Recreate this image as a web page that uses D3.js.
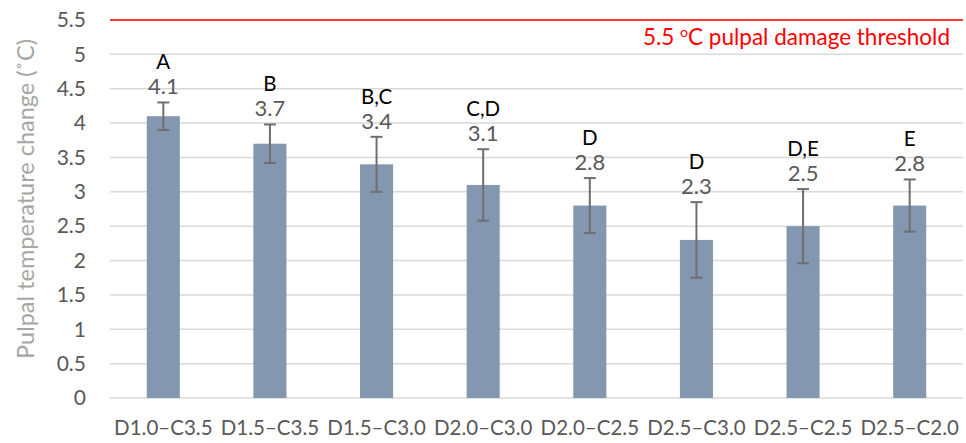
<!DOCTYPE html>
<html>
<head>
<meta charset="utf-8">
<script src="https://cdn.jsdelivr.net/npm/d3@7"></script>
<style>
  body { margin: 0; background: #fff; }
  svg { display: block; font-family: Lato, "Open Sans", sans-serif; }
</style>
</head>
<body>
<div id="chart"></div>
<script>
// data
const groups = ["D1.0–C3.5", "D1.5–C3.5", "D1.5–C3.0", "D2.0–C3.0", "D2.0–C2.5", "D2.5–C3.0", "D2.5–C2.5", "D2.5–C2.0"];
const means = [4.1, 3.7, 3.4, 3.1, 2.8, 2.3, 2.5, 2.8];
const errors = [0.2, 0.28, 0.4, 0.52, 0.4, 0.55, 0.54, 0.38];
const letters = ["A", "B", "B,C", "C,D", "D", "D", "D,E", "E"];
const yTicks = [0, 0.5, 1, 1.5, 2, 2.5, 3, 3.5, 4, 4.5, 5, 5.5];
const threshold = 5.5;

const W = 966, H = 443;
const margin = { top: 20, right: 3, bottom: 45, left: 110 };
const width = W - margin.left - margin.right;
const height = H - margin.top - margin.bottom;

const svg = d3.select("#chart").append("svg")
    .attr("width", W)
    .attr("height", H);

const g = svg.append("g")
    .attr("transform", `translate(${margin.left},${margin.top})`);

const x = d3.scaleBand()
    .domain(groups)
    .range([0, width])
    .paddingInner(0.69)
    .paddingOuter(0.345);

const y = d3.scaleLinear()
    .domain([0, 5.5])
    .range([height, 0]);

// gridlines
g.append("g")
    .selectAll("line")
    .data(yTicks)
    .join("line")
    .attr("x1", 0)
    .attr("x2", width)
    .attr("y1", d => y(d))
    .attr("y2", d => y(d))
    .attr("stroke", "#d9d9d9")
    .attr("stroke-width", 1.5);

// y axis labels
const yAxis = g.append("g")
    .call(d3.axisLeft(y).tickValues(yTicks).tickSize(0).tickPadding(24).tickFormat(d3.format("")));
yAxis.select(".domain").remove();
yAxis.selectAll("text")
    .attr("fill", "#595959")
    .style("font-size", "21px")
    .style("font-family", "Lato, sans-serif");

// x axis labels
const xAxis = g.append("g")
    .attr("transform", `translate(0,${height})`)
    .call(d3.axisBottom(x).tickSize(0).tickPadding(22));
xAxis.select(".domain").remove();
xAxis.selectAll("text")
    .attr("fill", "#595959")
    .style("font-size", "20.5px")
    .style("font-family", "Lato, sans-serif");

// threshold line
g.append("line")
    .attr("x1", 0)
    .attr("x2", width)
    .attr("y1", y(threshold))
    .attr("y2", y(threshold))
    .attr("stroke", "#ff0000")
    .attr("stroke-width", 1.5);

const thr = g.append("text")
    .attr("x", width - 13)
    .attr("y", y(threshold) + 25)
    .attr("text-anchor", "end")
    .attr("fill", "#ff0000")
    .style("font-size", "22.5px");
thr.append("tspan").text("5.5 ");
thr.append("tspan").text("o").attr("dy", -8).style("font-size", "14px");
thr.append("tspan").text("C pulpal damage threshold").attr("dy", 8);

// bars
g.append("g")
    .selectAll("rect")
    .data(groups)
    .join("rect")
    .attr("x", d => x(d))
    .attr("width", x.bandwidth())
    .attr("y", (d, i) => y(means[i]))
    .attr("height", (d, i) => height - y(means[i]))
    .attr("fill", "#8497b0");

// error bars
const cap = 6;
const eb = g.append("g")
    .attr("stroke", "#6f6f6f")
    .attr("stroke-width", 2);
groups.forEach((d, i) => {
    const cx = x(d) + x.bandwidth() / 2;
    const top = y(means[i] + errors[i]);
    const bot = y(means[i] - errors[i]);
    eb.append("line").attr("x1", cx).attr("x2", cx).attr("y1", top).attr("y2", bot);
    eb.append("line").attr("x1", cx - cap).attr("x2", cx + cap).attr("y1", top).attr("y2", top);
    eb.append("line").attr("x1", cx - cap).attr("x2", cx + cap).attr("y1", bot).attr("y2", bot);
});

// value labels and letters
groups.forEach((d, i) => {
    const cx = x(d) + x.bandwidth() / 2;
    const top = y(means[i] + errors[i]);
    g.append("text")
        .attr("x", cx)
        .attr("y", top - 8)
        .attr("text-anchor", "middle")
        .attr("fill", "#595959")
        .style("font-size", "22px")
        .text(means[i].toFixed(1));
    g.append("text")
        .attr("x", cx)
        .attr("y", top - 33)
        .attr("text-anchor", "middle")
        .attr("fill", "#000")
        .style("font-size", "20.5px")
        .text(letters[i]);
});

// y axis title
svg.append("text")
    .attr("transform", `translate(34,199) rotate(-90)`)
    .attr("text-anchor", "middle")
    .attr("fill", "#a6a6a6")
    .style("font-size", "23.5px")
    .text("Pulpal temperature change (˚C)");
</script>
</body>
</html>
